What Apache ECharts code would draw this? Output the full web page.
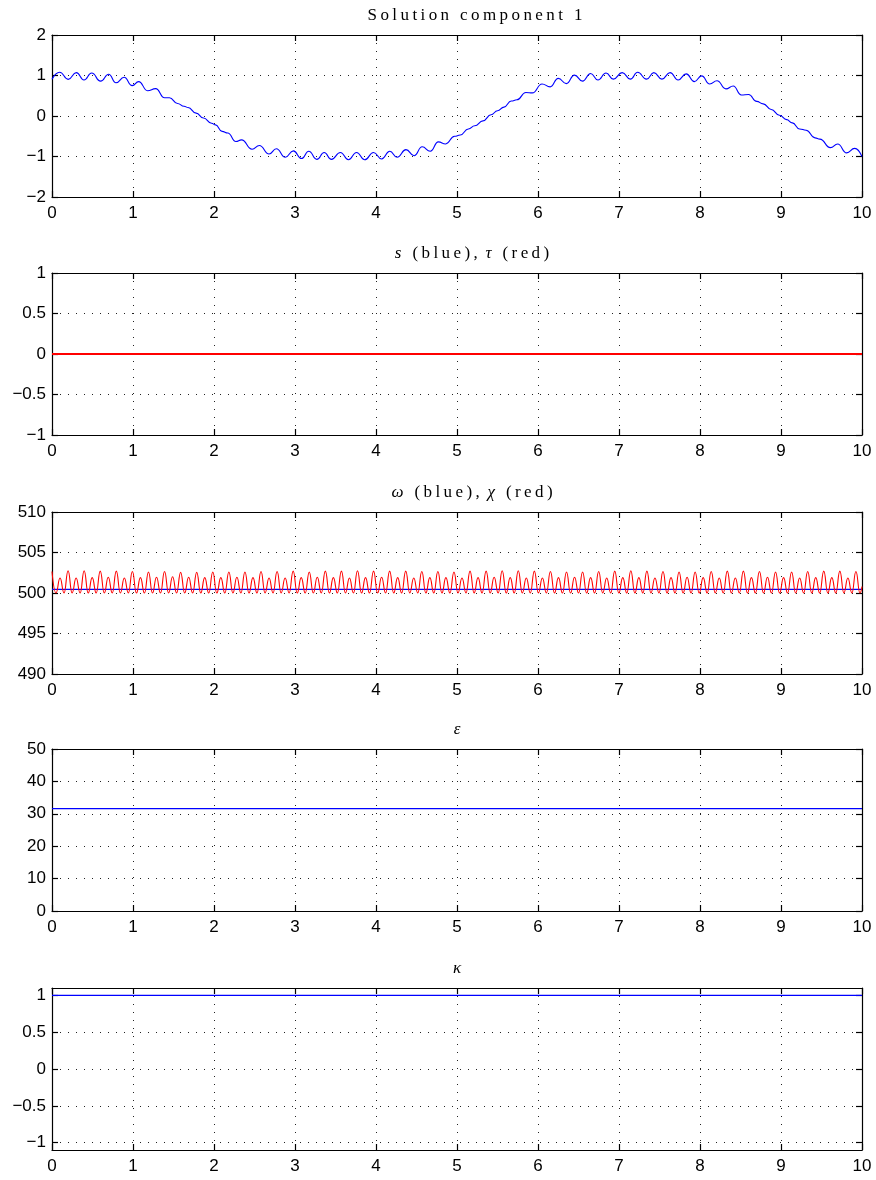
<!DOCTYPE html>
<html>
<head>
<meta charset="utf-8">
<script src="https://cdn.jsdelivr.net/npm/echarts@6/dist/echarts.min.js"></script>
<style>
  html, body { margin: 0; padding: 0; background: #fff; }
  #chart { width: 876px; height: 1180px; }
</style>
</head>
<body>
<div id="chart"></div>
<script>
// ---- Panel 1: solution component 1 (peaks, troughs and shoulders of the trace) ----
const solT = [0, 0.095, 0.20, 0.30, 0.395, 0.49, 0.60, 0.70, 0.79, 0.89, 0.99, 1.07, 1.18, 1.28, 1.39, 1.45,
  1.55, 1.63, 1.68, 1.78, 1.87, 1.97, 2.02, 2.10, 2.17, 2.27, 2.34, 2.47, 2.56, 2.68, 2.77, 2.88, 2.98,
  3.08, 3.17, 3.27, 3.36, 3.45, 3.56, 3.66, 3.76, 3.86, 3.97, 4.07, 4.17, 4.26, 4.37, 4.47, 4.57, 4.67,
  4.77, 4.86, 4.97, 5.04, 5.14, 5.22, 5.32, 5.42, 5.50, 5.58, 5.67, 5.74, 5.85, 5.93, 6.05, 6.15, 6.25,
  6.35, 6.45, 6.55, 6.65, 6.74, 6.84, 6.93, 7.04, 7.14, 7.23, 7.34, 7.43, 7.53, 7.63, 7.73, 7.83, 7.93,
  8.02, 8.12, 8.21, 8.32, 8.41, 8.51, 8.60, 8.70, 8.78, 8.88, 8.98, 9.07, 9.14, 9.23, 9.31, 9.42, 9.48,
  9.61, 9.70, 9.81, 9.91, 10.0];
const solY = [0.91, 1.08, 0.905, 1.07, 0.89, 1.06, 0.86, 1.03, 0.82, 0.955, 0.75, 0.85, 0.625, 0.675, 0.45, 0.45,
  0.31, 0.24, 0.21, 0.07, -0.05, -0.18, -0.22, -0.38, -0.42, -0.63, -0.59, -0.82, -0.73, -0.94, -0.81, -1.02, -0.86,
  -1.05, -0.87, -1.07, -0.90, -1.07, -0.90, -1.08, -0.90, -1.08, -0.90, -1.06, -0.87, -1.02, -0.83, -0.98, -0.76, -0.87,
  -0.64, -0.69, -0.50, -0.47, -0.32, -0.24, -0.12, 0.03, 0.13, 0.22, 0.37, 0.40, 0.58, 0.57, 0.79, 0.72, 0.93,
  0.80, 1.01, 0.86, 1.05, 0.89, 1.06, 0.91, 1.07, 0.91, 1.08, 0.91, 1.07, 0.91, 1.07, 0.89, 1.04, 0.85,
  0.99, 0.79, 0.87, 0.67, 0.74, 0.52, 0.53, 0.36, 0.30, 0.16, 0.02, -0.09, -0.17, -0.32, -0.35, -0.54, -0.57,
  -0.78, -0.69, -0.91, -0.80, -1.00];

// ---- Panel 2: s (blue) and tau (red) ----
const flatT = [0, 10];
const sVal = [0, 0];
const tauVal = [0, 0];

// ---- Panel 3: omega (blue) and chi (red) ----
const omegaVal = [500.45, 500.45];
const chiPeriod = 0.1985;               // one tall + one short hump
const chiFloor = 500.0;                 // every dip reaches this level
const chiTall = [502.65, 502.75, 502.75, 502.7, 502.7, 502.65, 502.6, 502.65, 502.55, 502.55, 502.6, 502.6,
  502.6, 502.65, 502.65, 502.7, 502.6, 502.7, 502.7, 502.75, 502.7, 502.7, 502.7, 502.65, 502.65, 502.6,
  502.7, 502.7, 502.75, 502.75, 502.7, 502.65, 502.6, 502.6, 502.65, 502.7, 502.75, 502.7, 502.65, 502.6,
  502.6, 502.65, 502.7, 502.7, 502.65, 502.6, 502.6, 502.65, 502.7, 502.7, 502.65];
const chiShort = [501.85, 501.85, 501.9, 501.95, 501.85, 501.9, 501.95, 502.0, 501.95, 501.9, 501.9, 501.95,
  501.9, 501.85, 501.85, 501.9, 501.95, 501.9, 501.85, 501.9, 501.95, 501.9, 501.85, 501.9, 501.9, 501.85,
  501.9, 501.95, 501.9, 501.85, 501.85, 501.9, 501.95, 501.9, 501.85, 501.9, 501.9, 501.85, 501.9, 501.95,
  501.9, 501.85, 501.85, 501.9, 501.95, 501.9, 501.85, 501.9, 501.9, 501.85];
const chiEnd = 500.8;                   // value at t = 10

// ---- Panel 4 and 5: epsilon and kappa ----
const epsVal = [31.6, 31.6];
const kappaVal = [1, 1];

// ---- tick values ----
const xTicks = [0, 1, 2, 3, 4, 5, 6, 7, 8, 9, 10];
const yTicks = [
  [-2, -1, 0, 1, 2],
  [-1, -0.5, 0, 0.5, 1],
  [490, 495, 500, 505, 510],
  [0, 10, 20, 30, 40, 50],
  [-1, -0.5, 0, 0.5, 1]
];
const yRange = [[-2, 2], [-1, 1], [490, 510], [0, 50], [-1.1, 1.1]];

// ---- layout ----
const plotLeft = 52, plotRight = 862, plotH = 162;
const plotTops = [35, 273, 512, 749, 988];

function pairs(ts, vs) { return ts.map((t, i) => [t, vs[i]]); }

// chi: tall hump, dip, short hump, dip ...
const chiData = [];
for (let k = 0; k < chiTall.length; k++) {
  const t0 = k * chiPeriod;
  chiData.push([t0, chiTall[k]]);
  chiData.push([t0 + chiPeriod / 4, chiFloor]);
  if (k < chiShort.length) {
    chiData.push([t0 + chiPeriod / 2, chiShort[k]]);
    chiData.push([t0 + 3 * chiPeriod / 4, chiFloor]);
  }
}
chiData.push([10, chiEnd]);

const minus = v => String(v).replace('-', '\u2212');
const axisFont = { fontFamily: 'Liberation Sans', fontSize: 17, color: '#000' };
const black = { color: '#000', width: 1.2 };
const gridDots = { color: '#222', width: 1, type: [1, 7] };

const grids = [], xAxes = [], yAxes = [];
plotTops.forEach((top, i) => {
  grids.push({ left: plotLeft, width: plotRight - plotLeft, top: top, height: plotH, containLabel: false });
  // bottom x axis with labels and grid dots
  xAxes.push({
    type: 'value', gridIndex: i, min: 0, max: 10, interval: 1, position: 'bottom',
    axisLine: { show: true, onZero: false, lineStyle: black },
    axisTick: { show: true, inside: true, length: 6, lineStyle: black },
    axisLabel: Object.assign({ show: true, margin: 8 }, axisFont),
    splitLine: { show: true, lineStyle: gridDots }
  });
  // top x axis: frame and inner ticks only
  xAxes.push({
    type: 'value', gridIndex: i, min: 0, max: 10, interval: 1, position: 'top',
    axisLine: { show: true, onZero: false, lineStyle: black },
    axisTick: { show: true, inside: true, length: 6, lineStyle: black },
    axisLabel: { show: false }, splitLine: { show: false }
  });
  const yBase = {
    type: 'value', gridIndex: i, min: yRange[i][0], max: yRange[i][1],
    axisTick: { show: true, inside: true, length: 6, lineStyle: black, customValues: yTicks[i] },
  };
  yAxes.push(Object.assign({}, yBase, {
    position: 'left',
    axisLine: { show: true, onZero: false, lineStyle: black },
    axisLabel: Object.assign({ show: true, margin: 6, formatter: minus, customValues: yTicks[i] }, axisFont),
    splitLine: { show: true, lineStyle: gridDots }
  }));
  yAxes.push(Object.assign({}, yBase, {
    position: 'right',
    axisLine: { show: true, onZero: false, lineStyle: black },
    axisLabel: { show: false }, splitLine: { show: false }
  }));
});

function line(i, data, color, smooth, width) {
  return {
    type: 'line', xAxisIndex: 2 * i, yAxisIndex: 2 * i, data: data,
    showSymbol: false, symbol: 'none', smooth: smooth || false, smoothMonotone: 'x',
    lineStyle: { color: color, width: width || 1.1 }, silent: true
  };
}

const series = [
  line(0, pairs(solT, solY), '#0000ff', 0.5),
  line(1, pairs(flatT, sVal), '#0000ff', false, 0.8),
  line(1, pairs(flatT, tauVal), '#ff0000', false, 2),
  line(2, pairs(flatT, omegaVal), '#0000ff', false, 1.4),
  line(2, chiData, '#ff0000', 0.5),
  line(3, pairs(flatT, epsVal), '#0000ff'),
  line(4, pairs(flatT, kappaVal), '#0000ff')
];

// panel headings, set in a widely tracked serif face
const spread = s => s.split('').join('\u2009');
const rich = {
  r: { fontFamily: 'Liberation Serif', fontSize: 17, color: '#222' },
  i: { fontFamily: 'Liberation Serif', fontSize: 17, fontStyle: 'italic', color: '#222' }
};
const headings = [
  { x: 475, text: '{r|' + spread('Solution component 1') + '}' },
  { x: 472, text: '{i|s}{r|\u2009' + spread(' (blue), ') + '}{i|\u03c4}{r|\u2009' + spread(' (red)') + '}' },
  { x: 472, text: '{i|\u03c9}{r|\u2009' + spread(' (blue), ') + '}{i|\u03c7}{r|\u2009' + spread(' (red)') + '}' },
  { x: 457, text: '{i|\u03b5}' },
  { x: 457, text: '{i|\u03ba}' }
];
const graphic = headings.map((h, i) => ({
  type: 'text', x: h.x, y: Math.round(plotTops[i]) - 19, silent: true,
  style: { text: h.text, rich: rich, align: 'center', verticalAlign: 'middle' }
}));

const chart = echarts.init(document.getElementById('chart'), null, { renderer: 'canvas' });
chart.setOption({
  animation: false,
  backgroundColor: '#fff',
  grid: grids,
  xAxis: xAxes,
  yAxis: yAxes,
  series: series,
  graphic: graphic
});
</script>
</body>
</html>
